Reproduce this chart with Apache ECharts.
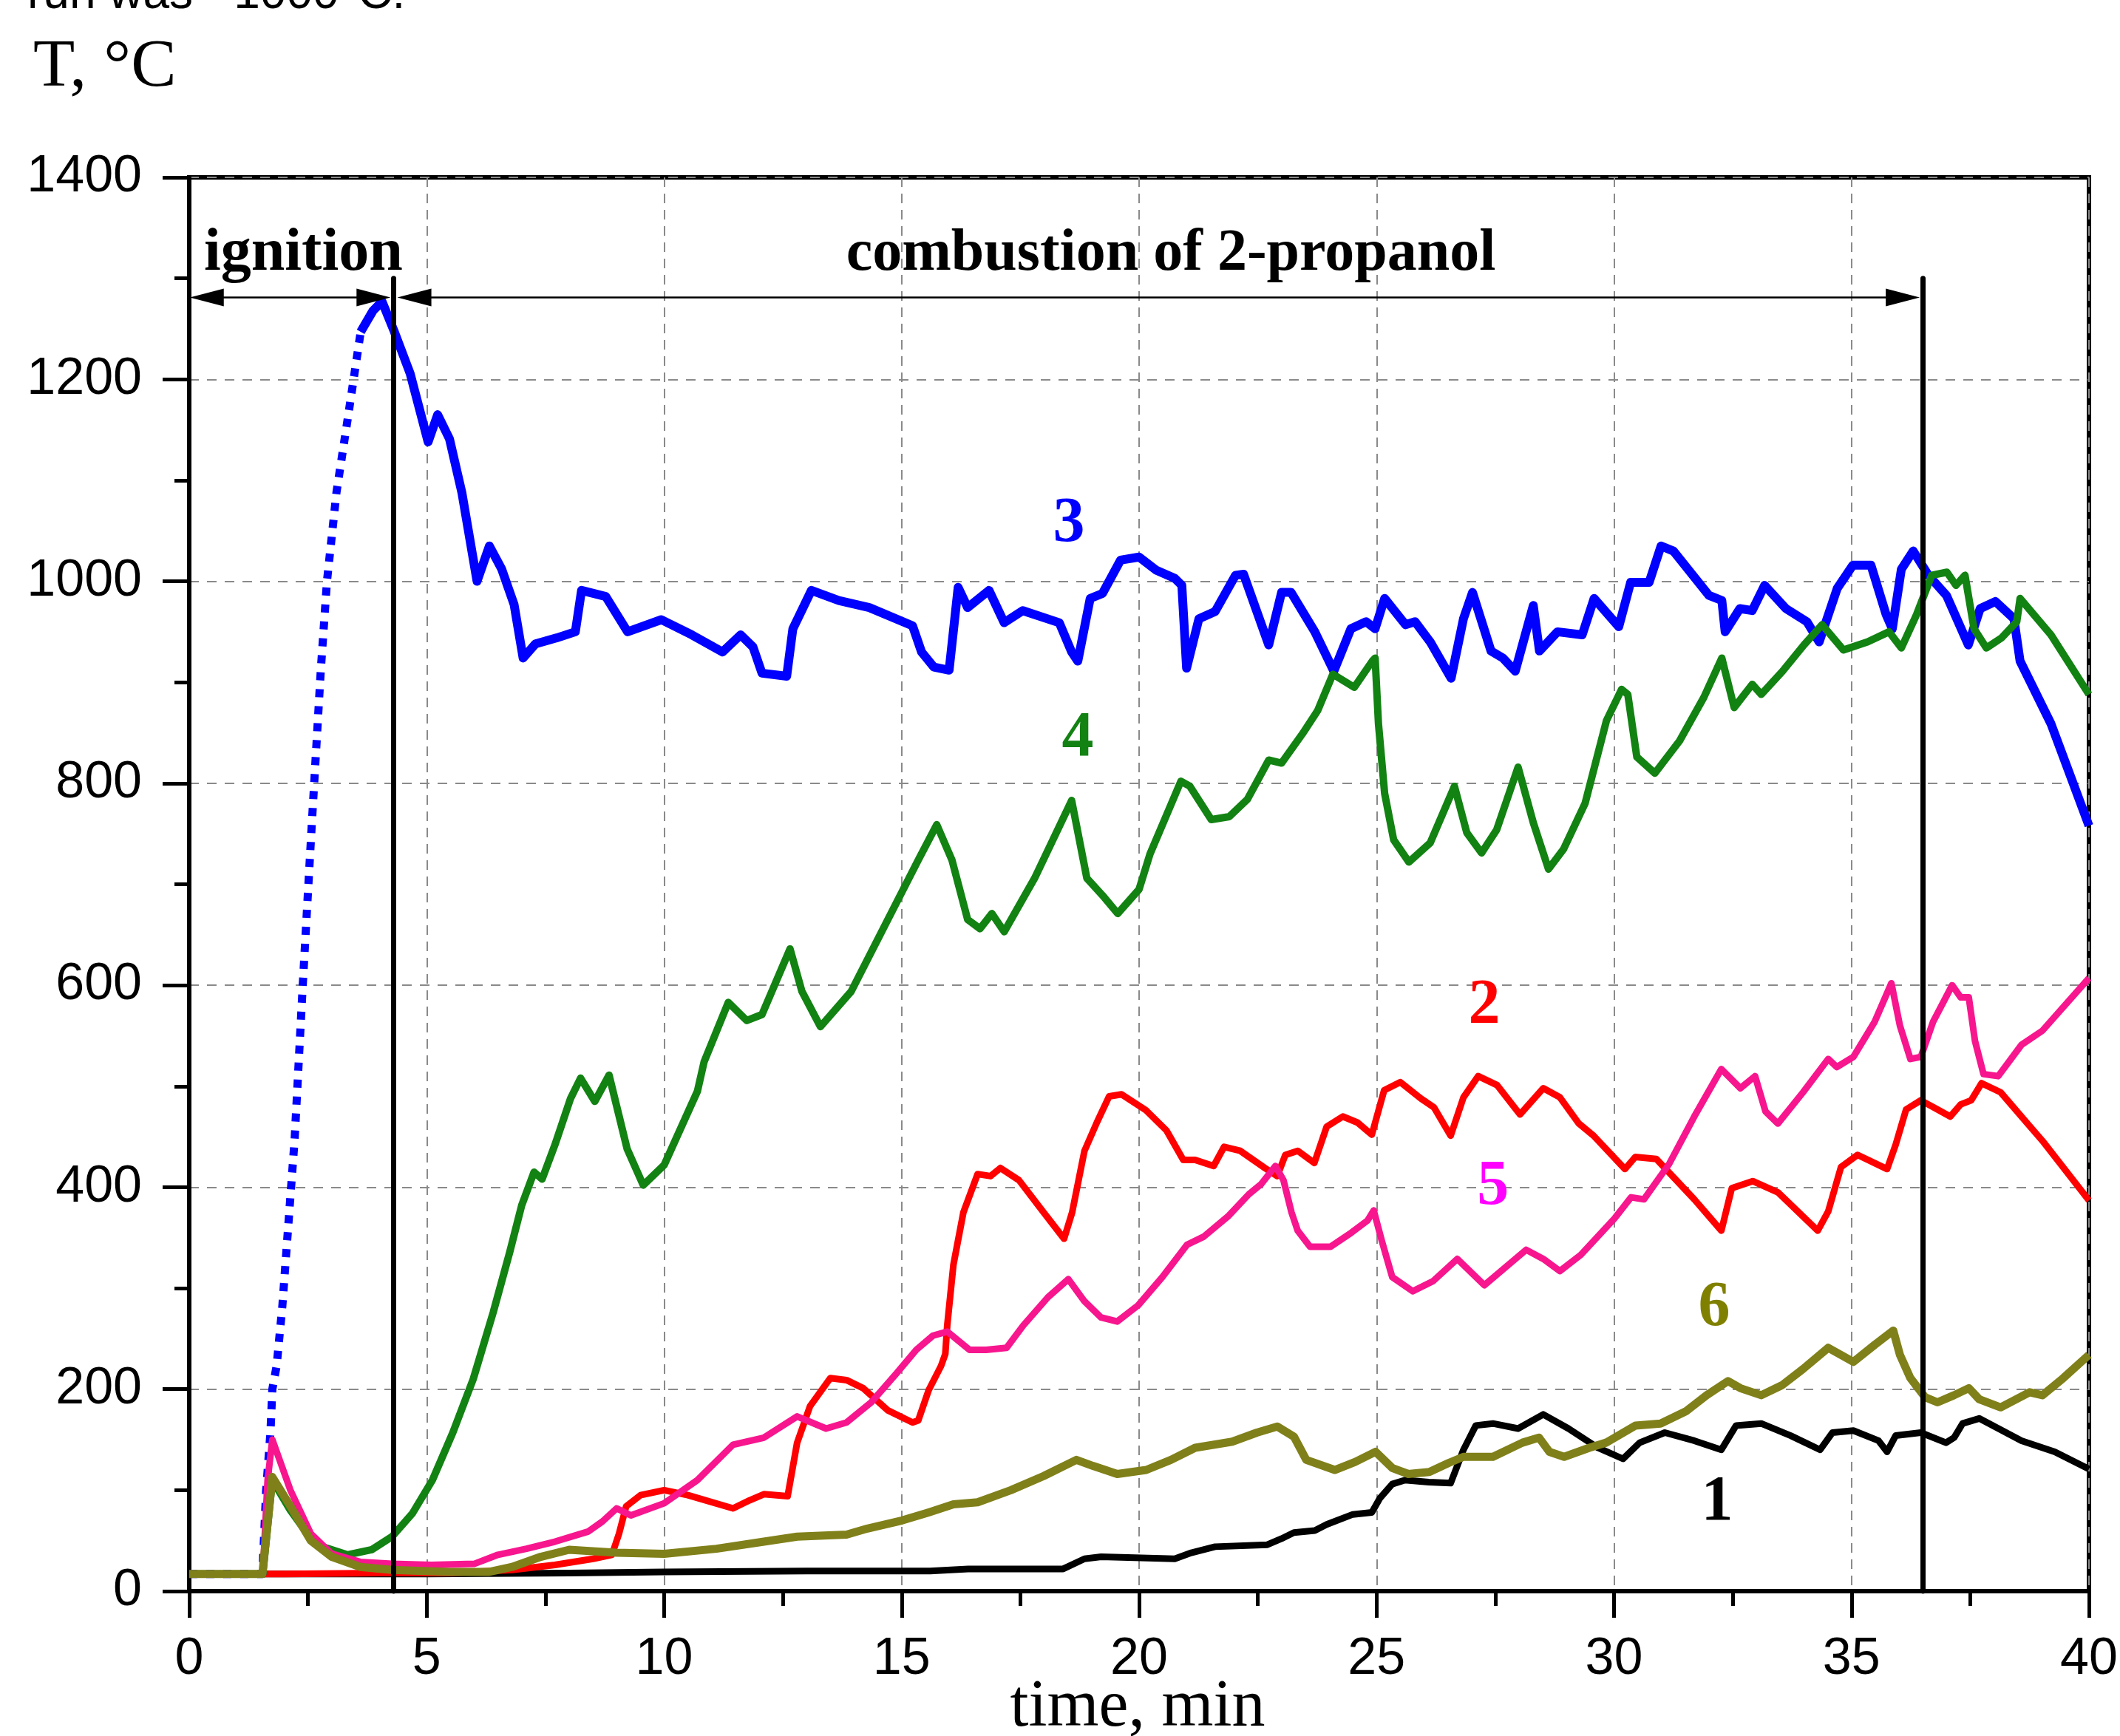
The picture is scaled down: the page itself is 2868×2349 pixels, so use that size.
<!DOCTYPE html>
<html><head><meta charset="utf-8">
<script src="https://cdn.jsdelivr.net/npm/echarts@6/dist/echarts.min.js"></script>
<style>html,body{margin:0;padding:0;background:#fff;overflow:hidden}#c{width:2868px;height:2349px}</style>
</head><body><div id="c"></div>
<script>
// ---- data: [time (min), T (°C)] ----
const curve1 = [[0,17],[5,17],[8,18],[10,19],[13,20],[15.6,20],[16.4,22],[18.4,22],[18.85,32],[19.2,34],[20.75,32],[21.1,38],[21.6,44],[22.7,46],[23.0,52],[23.26,58],[23.7,60],[23.95,66],[24.5,76],[24.9,78],[25.07,92],[25.33,106],[25.6,110],[26.1,108],[26.56,107],[26.83,140],[27.09,164],[27.45,166],[27.98,161],[28.51,175],[29.04,161],[29.66,142],[30.19,131],[30.54,147],[31.07,157],[31.69,149],[32.26,140],[32.57,164],[33.1,166],[33.72,154],[34.34,140],[34.6,157],[35.04,159],[35.57,149],[35.75,138],[35.93,154],[36.46,157],[36.99,147],[37.16,152],[37.34,166],[37.69,171],[38.58,149],[39.28,138],[40,121]];

const curve2 = [[0,17],[1.55,17],[2,17],[4,18],[5.5,18],[6.8,21],[7.7,26],[8.5,32],[8.9,36],[9.05,57],[9.2,84],[9.5,95],[10.0,100],[10.5,95],[11.45,82],[11.8,90],[12.1,96],[12.6,94],[12.8,147],[13.07,183],[13.5,211],[13.84,209],[14.19,201],[14.71,179],[15.23,167],[15.35,169],[15.57,199],[15.83,223],[15.92,235],[15.96,263],[16.09,323],[16.3,375],[16.6,413],[16.87,411],[17.08,419],[17.47,407],[17.99,375],[18.42,349],[18.59,375],[18.85,436],[19.11,464],[19.37,490],[19.63,492],[20.15,476],[20.58,456],[20.93,427],[21.18,427],[21.57,421],[21.79,440],[22.13,436],[22.65,419],[22.91,411],[23.08,432],[23.34,436],[23.69,424],[23.95,460],[24.29,470],[24.6,464],[24.9,452],[25.16,496],[25.5,504],[25.93,488],[26.21,479],[26.56,451],[26.83,489],[27.14,510],[27.54,501],[28.02,472],[28.51,498],[28.86,489],[29.26,463],[29.57,451],[30.23,418],[30.45,430],[30.89,428],[31.69,388],[32.26,357],[32.48,399],[32.92,406],[33.45,395],[34.29,357],[34.51,376],[34.78,420],[35.13,432],[35.75,418],[35.93,442],[36.15,477],[36.46,486],[37.08,470],[37.3,482],[37.52,486],[37.74,503],[38.14,494],[38.67,465],[39.02,446],[40,387]];

const curve3rise = [[0,17],[1.54,17],[1.62,100],[1.71,157],[1.75,200],[1.84,223],[1.96,282],[2.09,365],[2.22,448],[2.39,600],[2.58,759],[2.77,912],[2.9,1000],[3.1,1088],[3.35,1165],[3.61,1247]];

const curve3 = [[3.61,1247],[3.87,1268],[4.06,1277],[4.32,1247],[4.65,1206],[5.03,1138],[5.23,1165],[5.48,1141],[5.74,1088],[6.06,1000],[6.32,1035],[6.58,1012],[6.84,977],[7.03,924],[7.29,938],[7.74,944],[8.13,950],[8.26,991],[8.77,985],[9.23,950],[9.94,962],[10.58,947],[11.23,930],[11.61,947],[11.87,935],[12.06,909],[12.58,906],[12.71,953],[13.1,991],[13.68,981],[14.32,974],[15.23,956],[15.42,930],[15.68,915],[16.0,912],[16.19,994],[16.39,974],[16.84,991],[17.16,959],[17.55,971],[18.32,959],[18.58,930],[18.71,921],[18.97,983],[19.23,988],[19.61,1021],[20.0,1024],[20.36,1011],[20.75,1003],[20.9,996],[21.0,914],[21.26,963],[21.6,970],[22.03,1006],[22.2,1007],[22.73,937],[23.0,989],[23.2,989],[23.7,950],[24.1,911],[24.46,953],[24.78,960],[24.97,953],[25.17,983],[25.61,957],[25.81,960],[26.13,940],[26.57,904],[26.83,963],[27.02,989],[27.41,931],[27.66,924],[27.92,911],[28.3,976],[28.43,931],[28.81,950],[29.33,947],[29.58,983],[30.1,955],[30.35,999],[30.74,999],[30.99,1035],[31.25,1030],[32.0,986],[32.27,981],[32.34,950],[32.65,973],[32.91,971],[33.17,996],[33.62,973],[34.06,960],[34.32,940],[34.7,993],[35.03,1016],[35.41,1016],[35.73,967],[35.86,953],[36.05,1012],[36.3,1030],[36.62,1006],[37.0,986],[37.46,937],[37.71,973],[38.03,980],[38.42,963],[38.55,921],[39.2,859],[40,758]];

const curve4 = [[0,17],[1.55,17],[1.75,110],[2.13,80],[2.56,52],[2.8,44],[3.33,36],[3.84,41],[4.27,54],[4.7,77],[5.12,110],[5.55,157],[5.98,210],[6.4,276],[6.75,336],[7.0,382],[7.26,415],[7.43,408],[7.7,442],[8.03,488],[8.24,508],[8.54,485],[8.84,511],[9.22,438],[9.56,402],[10.0,422],[10.7,495],[10.84,524],[11.35,583],[11.74,565],[12.06,571],[12.65,636],[12.9,594],[13.29,559],[13.94,594],[14.71,665],[15.35,724],[15.74,759],[16.06,724],[16.39,665],[16.65,656],[16.9,671],[17.16,653],[17.8,706],[18.58,783],[18.9,706],[19.23,689],[19.55,671],[20.0,695],[20.23,730],[20.88,802],[21.07,797],[21.52,764],[21.9,767],[22.28,784],[22.73,823],[23.0,820],[23.44,849],[23.76,872],[24.08,908],[24.53,895],[24.91,921],[24.97,924],[25.04,859],[25.17,790],[25.36,744],[25.68,722],[26.13,741],[26.64,797],[26.9,751],[27.21,731],[27.53,754],[27.98,816],[28.3,761],[28.62,715],[28.94,735],[29.39,780],[29.84,862],[30.16,893],[30.29,888],[30.48,826],[30.86,810],[31.38,842],[31.89,885],[32.27,924],[32.53,875],[32.91,898],[33.1,888],[33.55,911],[34.0,937],[34.38,957],[34.83,932],[35.34,940],[35.79,950],[36.05,934],[36.37,967],[36.69,1006],[37.01,1009],[37.2,996],[37.39,1006],[37.58,953],[37.84,934],[38.16,944],[38.48,960],[38.55,983],[39.2,947],[40,888]];

const curve5 = [[0,17],[1.55,17],[1.65,110],[1.75,150],[2.13,100],[2.56,57],[3.0,37],[3.6,29],[4.27,27],[5.1,26],[6.0,27],[6.5,36],[7.1,42],[7.7,49],[8.4,59],[8.7,69],[9.0,82],[9.3,75],[10.0,87],[10.7,110],[11.45,145],[12.1,152],[12.8,173],[13.41,161],[13.84,167],[14.36,187],[14.88,215],[15.31,239],[15.66,253],[15.96,257],[16.43,239],[16.78,239],[17.21,241],[17.56,263],[18.08,291],[18.51,309],[18.85,287],[19.2,271],[19.54,267],[19.98,283],[20.49,311],[21.01,343],[21.36,351],[21.87,371],[22.31,393],[22.57,403],[22.87,421],[23.04,407],[23.21,375],[23.34,357],[23.6,341],[24.03,341],[24.47,355],[24.81,367],[24.94,377],[25.11,347],[25.33,311],[25.76,297],[26.19,307],[26.7,329],[27.27,303],[28.15,338],[28.51,329],[28.86,317],[29.3,333],[30.01,369],[30.36,390],[30.63,388],[31.16,423],[31.69,470],[32.26,517],[32.66,498],[32.97,510],[33.19,475],[33.45,463],[33.98,494],[34.51,527],[34.69,519],[35.04,529],[35.49,564],[35.84,602],[36.02,560],[36.24,527],[36.46,529],[36.72,564],[37.12,600],[37.3,588],[37.47,588],[37.6,545],[37.78,512],[38.09,510],[38.58,541],[39.02,555],[40,607]];

const curve6 = [[0,17],[1.54,17],[1.75,113],[2.13,84],[2.56,50],[3.0,34],[3.6,24],[4.27,21],[5.5,19],[6.3,19],[6.8,24],[7.4,34],[8.0,41],[9.0,38],[10.0,37],[11.1,42],[12.1,49],[12.8,54],[13.84,56],[14.28,62],[15.01,70],[15.57,78],[16.09,86],[16.6,88],[17.3,100],[17.99,114],[18.68,130],[19.03,124],[19.54,116],[20.15,120],[20.67,130],[21.18,142],[21.96,148],[22.48,157],[22.91,163],[23.26,153],[23.52,130],[24.12,120],[24.55,128],[24.98,138],[25.33,122],[25.67,116],[26.11,118],[26.52,127],[26.83,133],[27.45,133],[28.07,147],[28.42,152],[28.64,138],[28.95,133],[29.48,142],[29.83,147],[30.45,164],[30.98,166],[31.51,178],[31.95,194],[32.4,208],[32.66,201],[33.1,194],[33.54,204],[33.98,220],[34.51,241],[35.04,227],[35.49,244],[35.88,258],[36.02,234],[36.24,211],[36.55,192],[36.81,187],[37.16,194],[37.47,201],[37.69,190],[38.14,182],[38.75,197],[39.02,194],[39.46,211],[40,234]];

// stage boundaries (min) and annotation level (°C)
const stageLines = [4.3, 36.5];
const stageTop = 1300;
const arrowLevel = 1281;

// curve labels: [text, time, T]
const curveLabels = [['3',18.52,1056],['4',18.71,844],['2',27.27,579],['5',27.45,400],['6',32.11,280],['1',32.17,87]];
const labelColors = {'1':'#000000','2':'#ff0000','3':'#0000ff','4':'#128212','5':'#ff00ff','6':'#808000'};

const C = {k:'#000000', r:'#ff0000', b:'#0000ff', g:'#128212', m:'#f7168e', o:'#80801a'};

const chart = echarts.init(document.getElementById('c'), null, {renderer:'canvas', width:2868, height:2349});

function lineSeries(name, data, color, width, dash){
  return {name, type:'line', data, showSymbol:false, symbol:'none', smooth:false, animation:false,
    silent:true, lineStyle:{color, width, type: dash || 'solid', cap:'butt', join:'round'}};
}

const sBlack = lineSeries('1', curve1, C.k, 9);
sBlack.markLine = {
  silent:true, animation:false, label:{show:false}, emphasis:{disabled:true},
  data:[
    [{coord:[stageLines[0],stageTop],symbol:'none',lineStyle:{color:'#000',width:7,type:'solid',cap:'round'}},{coord:[stageLines[0],0],symbol:'none'}],
    [{coord:[stageLines[1],stageTop],symbol:'none',lineStyle:{color:'#000',width:7,type:'solid',cap:'round'}},{coord:[stageLines[1],0],symbol:'none'}],
    [{coord:[0.37,arrowLevel],symbol:'triangle',symbolSize:[24,46],lineStyle:{color:'#000',width:2.5,type:'solid'}},{coord:[stageLines[0]-0.42,arrowLevel],symbol:'triangle',symbolSize:[24,46]}],
    [{coord:[stageLines[0]+0.44,arrowLevel],symbol:'triangle',symbolSize:[24,46],lineStyle:{color:'#000',width:2.5,type:'solid'}},{coord:[stageLines[1]-0.42,arrowLevel],symbol:'triangle',symbolSize:[24,46]}]
  ]
};

const numFmt = v => String(v);

const option = {
  backgroundColor:'#ffffff',
  animation:false,
  grid:{left:256, right:42, top:240, bottom:196, containLabel:false, outerBoundsMode:'none',
        show:true, borderColor:'#000', borderWidth:6, backgroundColor:'transparent'},
  xAxis:{type:'value', min:0, max:40, interval:5,
    axisLine:{show:true, onZero:false, lineStyle:{color:'#000', width:6}},
    axisTick:{show:true, inside:false, length:36, lineStyle:{color:'#000', width:5}},
    minorTick:{show:true, splitNumber:2, length:20, lineStyle:{color:'#000', width:5}},
    splitLine:{show:true, lineStyle:{color:'#8a8a8a', width:2, type:[13,9]}},
    axisLabel:{color:'#000', fontSize:70, fontFamily:'Liberation Sans', margin:58, formatter:numFmt}},
  yAxis:{type:'value', min:0, max:1400, interval:200,
    axisLine:{show:true, onZero:false, lineStyle:{color:'#000', width:6}},
    axisTick:{show:true, inside:false, length:36, lineStyle:{color:'#000', width:5}},
    minorTick:{show:true, splitNumber:2, length:20, lineStyle:{color:'#000', width:5}},
    splitLine:{show:true, lineStyle:{color:'#8a8a8a', width:2, type:[13,11]}},
    axisLabel:{color:'#000', fontSize:70, fontFamily:'Liberation Sans', margin:64, formatter:numFmt}},
  series:[
    sBlack,
    lineSeries('2', curve2, C.r, 9),
    lineSeries('3 rise', curve3rise, C.b, 11, [11,12]),
    lineSeries('3', curve3, C.b, 12),
    lineSeries('4', curve4, C.g, 10),
    lineSeries('5', curve5, C.m, 9),
    lineSeries('6', curve6, C.o, 11)
  ]
};
chart.setOption(option);

function P(t, T){ return chart.convertToPixel({gridIndex:0}, [t, T]); }
const serif = 'Liberation Serif';
const graphics = [];
function txt(text, x, y, opt){
  graphics.push({type:'text', silent:true, x, y, style:Object.assign({text, fill:'#000', textAlign:'left', textVerticalAlign:'middle'}, opt)});
}
// top fragment of page text, axis titles
txt('run was ~1000°C.', 37, -7, {fontFamily:'Liberation Sans', fontSize:64});
txt('T, °C', 45, 92, {fontFamily:serif, fontSize:92});
txt('time, min', 1539, 2311, {fontFamily:serif, fontSize:90, textAlign:'center'});
// stage captions
let p = P(0.31, 1324); txt('ignition', p[0], p[1], {fontFamily:serif, fontSize:82, fontWeight:'bold'});
p = P(20.67, 1324); txt('combustion of 2-propanol', p[0], p[1], {fontFamily:serif, fontSize:80, fontWeight:'bold', textAlign:'center'});
// curve number labels
curveLabels.forEach(([s, t, T]) => { const q = P(t, T); txt(s, q[0], q[1], {fontFamily:serif, fontSize:86, fontWeight:'bold', textAlign:'center', fill:labelColors[s]}); });
chart.setOption({graphic:graphics});
</script></body></html>
